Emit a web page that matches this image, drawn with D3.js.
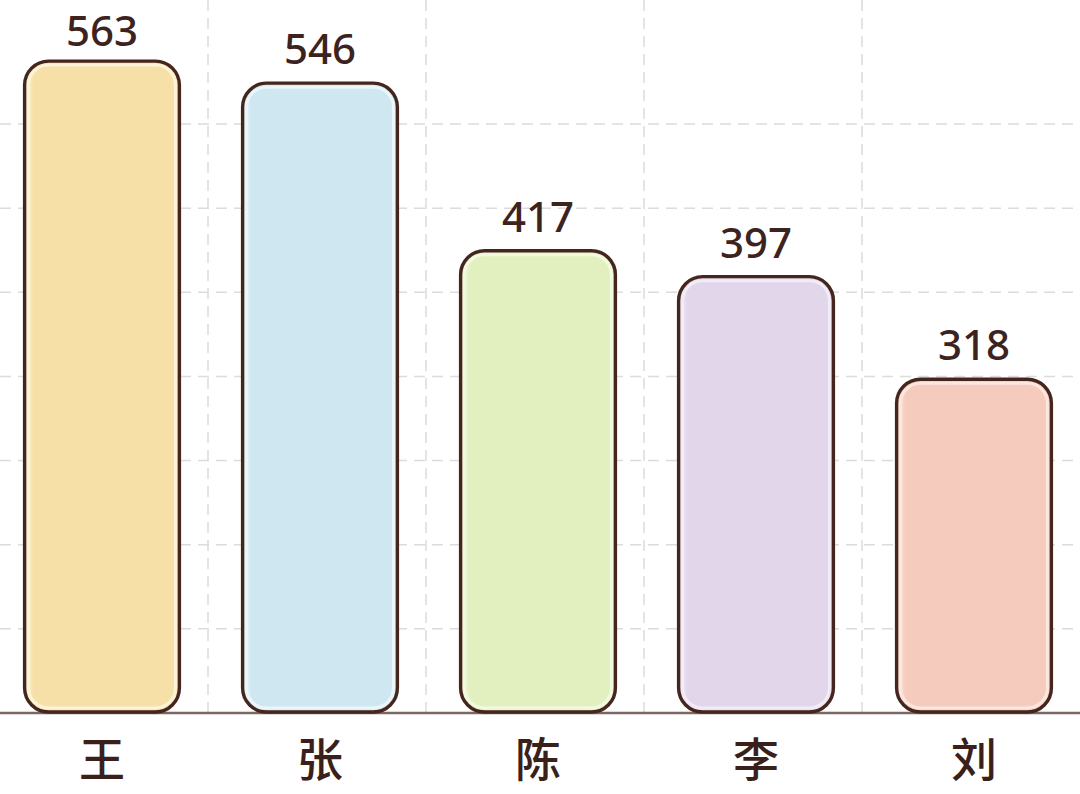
<!DOCTYPE html>
<html><head><meta charset="utf-8">
<script src="https://cdn.jsdelivr.net/npm/d3@7"></script>
<style>html,body{margin:0;padding:0;background:#fff;}svg{display:block;}</style>
</head><body>
<svg id="chart" width="1080" height="794"></svg>
<script>
const categories = ["王", "张", "陈", "李", "刘"];
const values = [563, 546, 417, 397, 318];
const fills = ["#f7dfa8", "#cfe7f0", "#e2f0bf", "#e2d7ea", "#f5cbbd"];
const highlights = ["#fdf3d8", "#ebf6fa", "#f3f9e0", "#f2ecf6", "#fce6de"];
const gridSteps = [1, 2, 3, 4, 5, 6, 7];

const W = 1080, H = 794, baseY = 713;
const svg = d3.select("#chart");

const x = d3.scaleBand().domain(categories).range([-7, 1083]).paddingInner(0.29).paddingOuter(0.145);
const y = d3.scaleLinear().domain([61, 570]).range([baseY, 52]);
const g = d3.scaleLinear().domain([0, 7]).range([baseY, 124]);

const defs = svg.append("defs");
categories.forEach((c, i) => {
  const lg = defs.append("linearGradient").attr("id", "grad" + i).attr("x1", 0).attr("x2", 1).attr("y1", 0).attr("y2", 0);
  lg.append("stop").attr("offset", "0").attr("stop-color", highlights[i]);
  lg.append("stop").attr("offset", "0.06").attr("stop-color", fills[i]);
  lg.append("stop").attr("offset", "1").attr("stop-color", fills[i]);
});

// grid
const grid = svg.append("g").attr("stroke", "#dcdcdc").attr("stroke-width", 1.5).attr("stroke-dasharray", "11,7");
grid.selectAll("line.h").data(gridSteps).join("line").attr("class", "h")
  .attr("x1", 0).attr("x2", W).attr("y1", d => g(d)).attr("y2", d => g(d));
grid.selectAll("line.v").data(categories.slice(0, -1)).join("line").attr("class", "v")
  .attr("x1", d => x(d) + x.bandwidth() + x.step() * x.paddingInner() / 2 - 3)
  .attr("x2", d => x(d) + x.bandwidth() + x.step() * x.paddingInner() / 2 - 3)
  .attr("y1", 0).attr("y2", baseY);

// baseline
svg.append("line").attr("x1", 0).attr("x2", W).attr("y1", baseY).attr("y2", baseY)
  .attr("stroke", "#7d6762").attr("stroke-width", 2.5);

// bars
const bars = svg.append("g").selectAll("g").data(categories).join("g");
bars.append("rect")
  .attr("x", d => x(d)).attr("width", x.bandwidth())
  .attr("y", (d, i) => y(values[i])).attr("height", (d, i) => baseY - 1 - y(values[i]))
  .attr("rx", 24).attr("ry", 24)
  .attr("fill", (d, i) => `url(#grad${i})`)
  .attr("stroke", "#45261f").attr("stroke-width", 3.4);
bars.append("rect")
  .attr("x", d => x(d) + 4).attr("width", x.bandwidth() - 8)
  .attr("y", (d, i) => y(values[i]) + 4).attr("height", (d, i) => baseY - 9 - y(values[i]))
  .attr("rx", 20).attr("ry", 20)
  .attr("fill", "none")
  .attr("stroke", (d, i) => highlights[i]).attr("stroke-width", 3);

// value labels
svg.append("g").selectAll("text").data(categories).join("text")
  .attr("x", d => x(d) + x.bandwidth() / 2)
  .attr("y", (d, i) => Math.max(y(values[i]) - 19, 46))
  .attr("text-anchor", "middle")
  .attr("font-family", "'Noto Sans', 'Open Sans', sans-serif")
  .attr("font-weight", 500).attr("font-size", 42)
  .attr("fill", "#3d2320")
  .text((d, i) => values[i]);

// category labels
svg.append("g").selectAll("text").data(categories).join("text")
  .attr("x", d => x(d) + x.bandwidth() / 2)
  .attr("y", 776)
  .attr("text-anchor", "middle")
  .attr("font-family", "'Noto Sans CJK SC', sans-serif")
  .attr("font-weight", 500).attr("font-size", 46)
  .attr("fill", "#3a1f1b")
  .text(d => d);
</script>
</body></html>
